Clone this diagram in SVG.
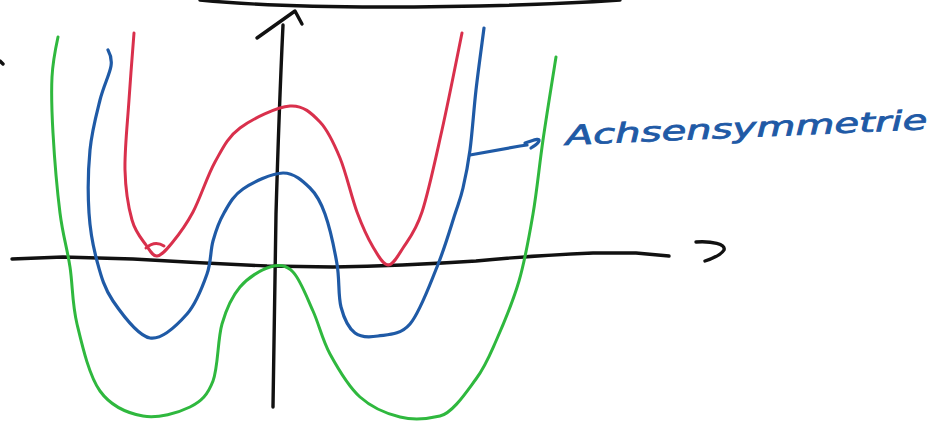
<svg xmlns="http://www.w3.org/2000/svg" width="952" height="428" viewBox="0 0 952 428">
<style>
.ink{fill:none;stroke-linecap:round;stroke-linejoin:round}
.k{stroke:#111111;stroke-width:3.4}
.r{stroke:#d9304c;stroke-width:3}
.b{stroke:#1f5aa6;stroke-width:3.2}
.g{stroke:#2fb83e;stroke-width:3}
</style>
<rect width="952" height="428" fill="#ffffff"/>
<g id="axes">
<path class="ink k" d="M200,0 C250,5 300,7 380,7 S560,4 620,0"/>
<path class="ink k" d="M0,61 L3,64"/>
<path class="ink k" d="M12,259 L63,257 L133,259 Q200,263 267,266 L333,267 Q400,266 476,261 Q526,256 593,253 L636,253 L669,256"/>
<path class="ink k" d="M283,25 Q279,110 276,214 L273,407"/>
<path class="ink k" d="M257,38 L295,11 L302,24"/>
<path class="ink k" d="M696,242 C712,241 726,244 724,250 C721,255 711,259 705,261"/>
</g>
<g id="red-curve">
<path class="ink r" d="M134,33 S130.5,77.2 129,100 S124.5,150 125,170 S128.5,207.5 132,220 S141.8,239 146,245 S152.7,256.3 157,256 S166,250.3 172,243 S185.8,225.5 193,212 S207.2,176 215,162 S227.5,137.3 240,128 S276.7,107 290,106 S311.7,113.3 320,122 S333.8,143 340,158 S351.5,197.2 357,212 S367.8,238.2 373,247 S383,264.8 388,265 S397.3,256.8 403,248 S415.5,231.7 422,212 S435.3,159.8 442,130 S458.7,49.2 462,33"/>
<path class="ink r" d="M146,248 Q155,240 164,246"/>
</g>
<g id="blue-curve">
<path class="ink b" d="M108,50 S112.3,57.7 111,66 S103.5,86 100,100 S91.8,131.2 90,150 S87.8,194.5 89,213 S93,246.3 97,261 S104.2,288.2 113,301 S137.7,335.8 150,338 S177.5,324.7 187,314 S202.7,286.2 207,274 S210.2,251.2 213,241 S219,221.7 224,213 S233.2,195.7 243,189 S271.8,173.2 283,173 S303,181.2 310,188 S320.5,201.3 325,214 S334.3,248.5 337,264 S338,295.5 341,307 S348.8,328.2 355,333 S368.8,337.5 378,336 S400.2,335.5 410,324 S429.5,285.3 437,267 S450.7,227.2 455,214 S460.5,198.7 463,188 S467.8,166.3 470,150 S473.7,110.3 476,90 S482.7,38.3 484,28"/>
</g>
<g id="green-curve">
<path class="ink g" d="M58,37 S52.8,61 52,77 S51.7,110.3 53,133 S57.2,190.7 60,213 S67.2,248.5 70,267 S72,303.3 77,324 S89,375.7 100,391 S128,413.3 143,416 S178.3,412.8 190,407 S207.7,394.8 213,381 S217.5,339.7 222,324 S232,296.5 240,287 S261.2,269.5 270,267 S285.8,264.7 293,272 S306.8,297.3 313,311 S322.2,339.7 330,354 S348.3,386.5 360,397 S386.7,413.8 400,417 S427.3,419 440,416 S466.7,391.5 476,379 S488.8,357.3 496,341 S512.8,302.2 519,281 S529,237.5 533,214 S539.2,166.2 543,140 S553.8,70.8 556,57"/>
</g>
<g id="connectors">
<path class="ink b" d="M470,155 L520,146 L527,145"/>
<path class="ink b" d="M525,143 C532,141 540,137 539,141 C538,144 534,146 531,148"/>
</g>
<g id="label">
<text x="566" y="145" transform="rotate(-2.5 566 145)" font-family="DejaVu Sans, sans-serif" font-style="italic" font-size="27" textLength="362" lengthAdjust="spacingAndGlyphs" fill="#1f5aa6" stroke="#1f5aa6" stroke-width="0.8">Achsensymmetrie</text>
</g>
</svg>
